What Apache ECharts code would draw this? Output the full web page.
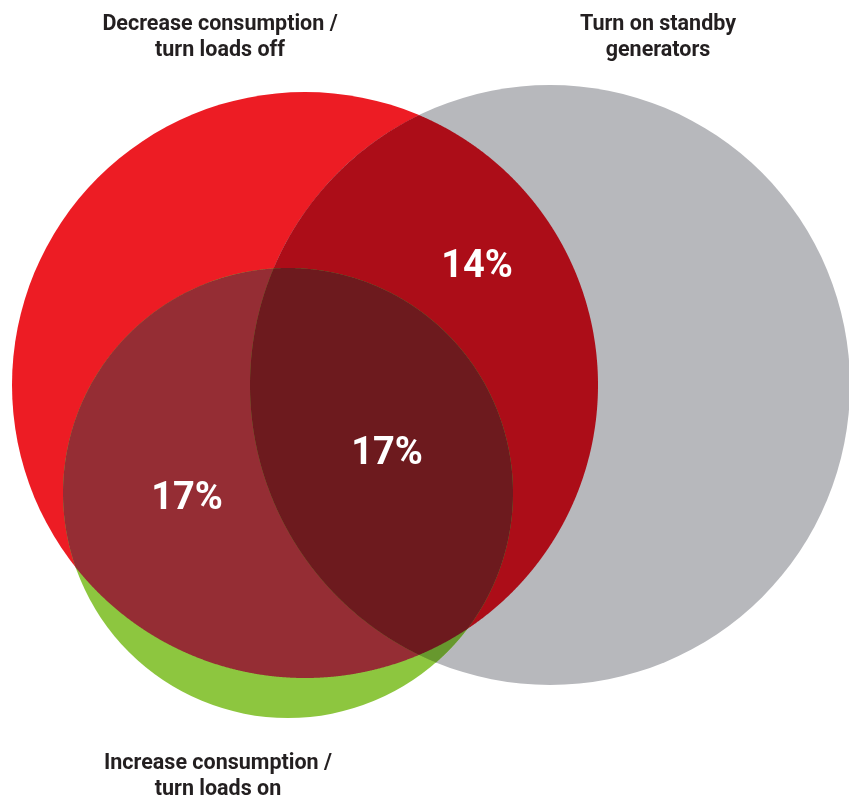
<!DOCTYPE html>
<html>
<head>
<meta charset="utf-8">
<script src="https://cdn.jsdelivr.net/npm/echarts@6/dist/echarts.min.js"></script>
<style>
html,body{margin:0;padding:0;background:#fff;}
#chart{width:849px;height:796px;}
</style>
</head>
<body>
<div id="chart"></div>
<script>
// ---- data ----
const setNames = ['Decrease consumption /\nturn loads off', 'Turn on standby\ngenerators', 'Increase consumption /\nturn loads on'];
const regionLabels = ['14%', '17%', '17%'];          // A∩B only, A∩C only, A∩B∩C
const regionSets = [[0, 1], [0, 2], [0, 1, 2]];

// ---- layout (data units = pixels of the 849x796 canvas) ----
const circleX = [305, 550, 288];
const circleY = [385, 385, 493];
const circleR = [293, 300, 225];
const setLabelX = [220, 658, 218];
const setLabelY = [38, 38, 777];
const regionLabelX = [477, 187, 387];
const regionLabelY = [267, 499, 454];

const paintOrder = [
  {sets: [0], color: '#ED1C24'},
  {sets: [1], color: '#B7B8BC'},
  {sets: [2], color: '#8DC63F'},
  {sets: [0, 1], color: '#AC0D18'},
  {sets: [0, 2], color: '#952D34'},
  {sets: [1, 2], color: '#67982E'},
  {sets: [0, 1, 2], color: '#6D1A1E'}
];

function circleIntersections(a, b) {
  const dx = b.x - a.x, dy = b.y - a.y;
  const d = Math.hypot(dx, dy);
  if (d > a.r + b.r || d < Math.abs(a.r - b.r) || d === 0) return [];
  const l = (a.r * a.r - b.r * b.r + d * d) / (2 * d);
  const h = Math.sqrt(Math.max(0, a.r * a.r - l * l));
  const mx = a.x + l * dx / d, my = a.y + l * dy / d;
  return [[mx + h * dy / d, my - h * dx / d], [mx - h * dy / d, my + h * dx / d]];
}

function regionPolygon(cs) {
  const pts = [];
  const inside = (p, skip, tol) => cs.every((c, j) => j === skip || Math.hypot(p[0] - c.x, p[1] - c.y) <= c.r + tol);
  const N = 2400;
  cs.forEach((c, i) => {
    for (let k = 0; k < N; k++) {
      const t = 2 * Math.PI * k / N;
      const p = [c.x + c.r * Math.cos(t), c.y + c.r * Math.sin(t)];
      if (inside(p, i, 0)) pts.push(p);
    }
  });
  for (let i = 0; i < cs.length; i++) {
    for (let j = i + 1; j < cs.length; j++) {
      circleIntersections(cs[i], cs[j]).forEach(p => {
        if (cs.every((c, m) => m === i || m === j || Math.hypot(p[0] - c.x, p[1] - c.y) <= c.r + 0.01)) pts.push(p);
      });
    }
  }
  const cx = pts.reduce((s, p) => s + p[0], 0) / pts.length;
  const cy = pts.reduce((s, p) => s + p[1], 0) / pts.length;
  pts.sort((p, q) => Math.atan2(p[1] - cy, p[0] - cx) - Math.atan2(q[1] - cy, q[0] - cx));
  return pts;
}

const chart = echarts.init(document.getElementById('chart'), null, {renderer: 'canvas'});
const option = {
  animation: false,
  backgroundColor: '#ffffff',
  grid: {left: 0, right: 0, top: 0, bottom: 0},
  xAxis: {type: 'value', min: 0, max: 849, show: false},
  yAxis: {type: 'value', min: 0, max: 796, inverse: true, show: false},
  series: [
    {
      type: 'custom',
      coordinateSystem: 'cartesian2d',
      silent: true,
      data: paintOrder.map((r, i) => [i, 0]),
      renderItem: function (params, api) {
        const region = paintOrder[params.dataIndex];
        const circles = circleX.map((x, i) => {
          const c = api.coord([x, circleY[i]]);
          return {x: c[0], y: c[1], r: api.size([circleR[i], 0])[0]};
        });
        const cs = region.sets.map(s => circles[s]);
        if (cs.length === 1) {
          return {type: 'circle', shape: {cx: cs[0].x, cy: cs[0].y, r: cs[0].r}, style: {fill: region.color}};
        }
        return {type: 'polygon', shape: {points: regionPolygon(cs)}, style: {fill: region.color}};
      }
    },
    {
      type: 'scatter',
      symbolSize: 0,
      silent: true,
      itemStyle: {opacity: 1},
      data: setNames.map((n, i) => ({name: n, value: [setLabelX[i], setLabelY[i]]})),
      label: {
        show: true, position: 'inside', formatter: '{b}', opacity: 1,
        color: '#231F20', fontFamily: 'Roboto', fontWeight: 'bold', fontSize: 21.5,
        lineHeight: 26, align: 'center', verticalAlign: 'middle'
      },
      z: 5
    },
    {
      type: 'scatter',
      symbolSize: 0,
      silent: true,
      itemStyle: {opacity: 1},
      data: regionLabels.map((n, i) => ({name: n, value: [regionLabelX[i], regionLabelY[i]]})),
      label: {
        show: true, position: 'inside', formatter: '{b}', opacity: 1,
        color: '#ffffff', fontFamily: 'Roboto', fontWeight: 'bold', fontSize: 38,
        align: 'center', verticalAlign: 'middle'
      },
      z: 5
    }
  ]
};
chart.setOption(option);
</script>
</body>
</html>
